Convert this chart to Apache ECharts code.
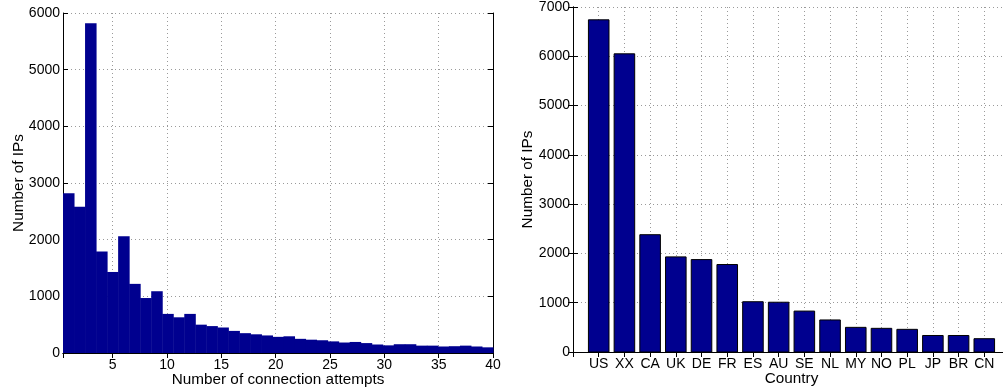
<!DOCTYPE html>
<html>
<head>
<meta charset="utf-8">
<script src="https://cdn.jsdelivr.net/npm/echarts@6/dist/echarts.min.js"></script>
<style>
  html, body { margin: 0; padding: 0; background: #ffffff; }
  #chart { width: 1003px; height: 389px; }
</style>
</head>
<body>
<div id="chart"></div>
<script>
// Histogram of connection attempts per IP
const attemptBinStart = 0.43;
const attemptBinEnd = 40;
const attemptCounts = [
  2820, 2580, 5820, 1790, 1430, 2060, 1220, 970, 1090, 690,
  630, 690, 500, 475, 450, 390, 350, 330, 310, 285,
  295, 250, 235, 225, 205, 185, 195, 175, 150, 135,
  155, 155, 130, 130, 115, 120, 130, 115, 100
];
const attemptTicks = [5, 10, 15, 20, 25, 30, 35, 40];

// IPs per country
const countries = ['US', 'XX', 'CA', 'UK', 'DE', 'FR', 'ES', 'AU', 'SE', 'NL', 'MY', 'NO', 'PL', 'JP', 'BR', 'CN'];
const countryIPs = [6740, 6050, 2380, 1930, 1875, 1775, 1020, 1010, 830, 650, 500, 480, 460, 335, 335, 270];

const FONT = '"Liberation Sans", Arial, Helvetica, sans-serif';
const BAR_COLOR = '#00008f';

const binWidth = (attemptBinEnd - attemptBinStart) / attemptCounts.length;
const histData = attemptCounts.map((c, i) => [
  attemptBinStart + i * binWidth,
  attemptBinStart + (i + 1) * binWidth,
  c
]);
const countryData = countryIPs.map((v, i) => [i + 1, v]);

const gridLine = { show: true, lineStyle: { color: '#9a9a9a', type: [1, 3], width: 1 } };
const frameLine = { show: true, lineStyle: { color: '#000', width: 1 } };
const innerTick = { show: true, inside: true, length: 5, lineStyle: { color: '#000', width: 1 } };
const tickText = { color: '#000', fontFamily: FONT, fontSize: 14 };
const nameText = { color: '#000', fontFamily: FONT, fontSize: 15.3 };
const plainNumber = v => String(Math.round(v));

const chart = echarts.init(document.getElementById('chart'), null, { renderer: 'canvas' });

chart.setOption({
  animation: false,
  backgroundColor: '#ffffff',
  grid: [
    { left: 63, top: 13, width: 430, height: 340, containLabel: false, outerBoundsMode: 'none' },
    { left: 573, top: 7, width: 437, height: 345, containLabel: false, outerBoundsMode: 'none' }
  ],
  xAxis: [
    {
      gridIndex: 0, type: 'value', position: 'bottom',
      min: attemptBinStart, max: attemptBinEnd, minInterval: 5, maxInterval: 5,
      name: 'Number of connection attempts', nameLocation: 'middle', nameGap: 19,
      nameMoveOverlap: false,
      nameTextStyle: nameText,
      axisLine: frameLine, axisTick: innerTick,
      axisLabel: Object.assign({ margin: 5, showMinLabel: true,
        formatter: v => attemptTicks.indexOf(Math.round(v * 100) / 100) >= 0 ? plainNumber(v) : '' }, tickText),
      splitLine: gridLine
    },
    {
      gridIndex: 0, type: 'value', position: 'top',
      min: attemptBinStart, max: attemptBinEnd, minInterval: 5, maxInterval: 5,
      axisLine: frameLine, axisTick: innerTick, axisLabel: { show: false }, splitLine: { show: false }
    },
    {
      gridIndex: 1, type: 'value', position: 'bottom',
      min: 0, max: 17, interval: 1,
      name: 'Country', nameLocation: 'middle', nameGap: 19,
      nameMoveOverlap: false,
      nameTextStyle: nameText,
      axisLine: frameLine, axisTick: innerTick,
      axisLabel: Object.assign({ margin: 5,
        formatter: v => countries[Math.round(v) - 1] || '' }, tickText),
      splitLine: gridLine
    },
    {
      gridIndex: 1, type: 'value', position: 'top',
      min: 0, max: 17, interval: 1,
      axisLine: frameLine, axisTick: innerTick, axisLabel: { show: false }, splitLine: { show: false }
    }
  ],
  yAxis: [
    {
      gridIndex: 0, type: 'value', position: 'left',
      min: 0, max: 6000, interval: 1000,
      name: 'Number of IPs', nameLocation: 'middle', nameGap: 37,
      nameMoveOverlap: false,
      nameTextStyle: nameText,
      axisLine: frameLine, axisTick: innerTick,
      axisLabel: Object.assign({ margin: 3, formatter: plainNumber }, tickText),
      splitLine: gridLine
    },
    {
      gridIndex: 0, type: 'value', position: 'right',
      min: 0, max: 6000, interval: 1000,
      axisLine: frameLine, axisTick: innerTick, axisLabel: { show: false }, splitLine: { show: false }
    },
    {
      gridIndex: 1, type: 'value', position: 'left',
      min: 0, max: 7000, interval: 1000,
      name: 'Number of IPs', nameLocation: 'middle', nameGap: 38,
      nameMoveOverlap: false,
      nameTextStyle: nameText,
      axisLine: frameLine, axisTick: innerTick,
      axisLabel: Object.assign({ margin: 3, formatter: plainNumber }, tickText),
      splitLine: gridLine
    },
    {
      gridIndex: 1, type: 'value', position: 'right',
      min: 0, max: 7000, interval: 1000,
      axisLine: frameLine, axisTick: innerTick, axisLabel: { show: false }, splitLine: { show: false }
    }
  ],
  series: [
    {
      name: 'attempts', type: 'custom', xAxisIndex: 0, yAxisIndex: 0,
      encode: { x: [0, 1], y: 2 },
      data: histData,
      renderItem: (params, api) => {
        const base = api.coord([api.value(0), 0]);
        const top = api.coord([api.value(1), api.value(2)]);
        return {
          type: 'rect',
          shape: { x: base[0], y: top[1], width: top[0] - base[0] + 0.5, height: base[1] - top[1] },
          style: { fill: BAR_COLOR }
        };
      }
    },
    {
      name: 'countries', type: 'custom', xAxisIndex: 2, yAxisIndex: 2,
      encode: { x: 0, y: 1 },
      data: countryData,
      renderItem: (params, api) => {
        const x = api.value(0);
        const left = api.coord([x - 0.4, 0]);
        const right = api.coord([x + 0.4, api.value(1)]);
        return {
          type: 'rect',
          shape: { x: left[0], y: right[1], width: right[0] - left[0], height: left[1] - right[1] },
          style: { fill: BAR_COLOR, stroke: '#000', lineWidth: 1 }
        };
      }
    }
  ]
});
</script>
</body>
</html>
